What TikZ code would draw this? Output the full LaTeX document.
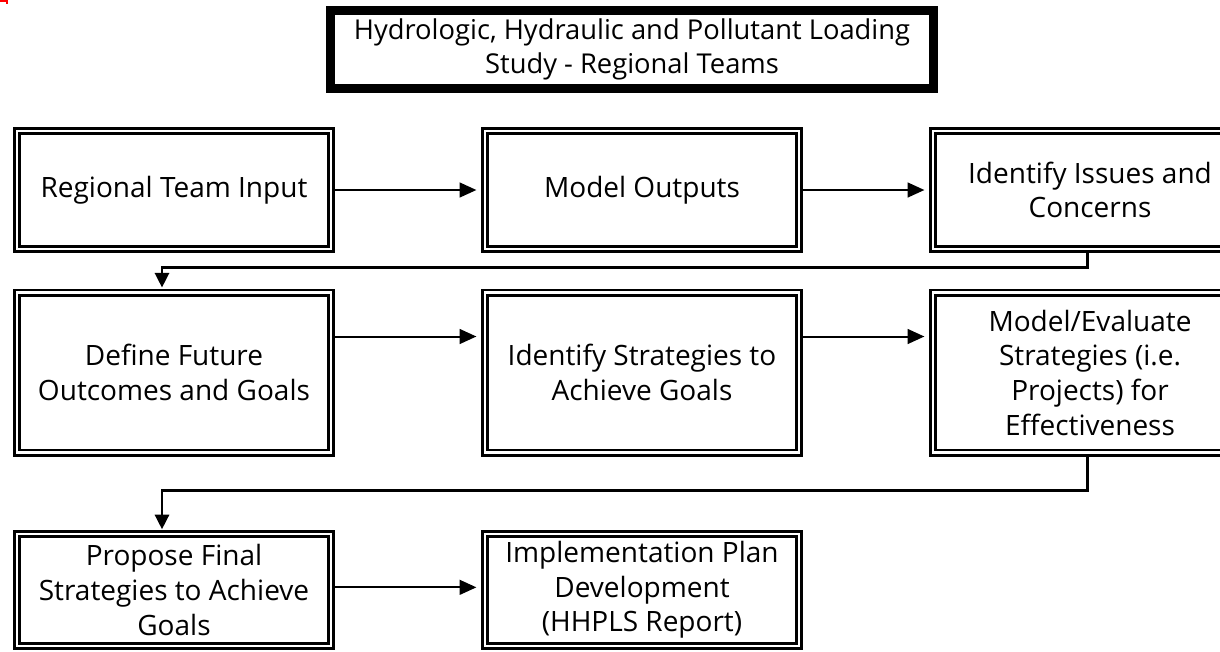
\documentclass[tikz,border=0pt]{standalone}
\usepackage{fontspec}
\setmainfont{Open Sans}
\usetikzlibrary{arrows.meta}

\begin{document}
\begin{tikzpicture}[x=0.75pt, y=-0.75pt,
        stepbox/.style={draw, double, line width=2.2pt, double distance=1.6pt,
            outer sep=3.2pt, align=center, minimum width=235pt,
            font=\fontsize{21}{26}\selectfont},
        titlebox/.style={draw, line width=6.75pt, align=center,
            minimum width=452pt, minimum height=58.5pt, outer sep=0pt,
            font=\fontsize{20.5}{25.5}\selectfont},
        flow/.style={line width=1.5pt, shorten >=3.5pt,
            -{Triangle[length=12.5pt, width=11pt]}},
        back/.style={line width=2.2pt, shorten >=0.5pt,
            -{Triangle[length=11pt, width=10.5pt]}}]

        \useasboundingbox (0,0) rectangle (1220,651);
        \clip (0,0) rectangle (1220,651);

        % corner mark
        \draw[red, line width=1.5pt] (0,1) -- (6.5,1) -- (6.5,4);

        % title
        \node[titlebox] (ttl) at (632,49.5)
            {Hydrologic, Hydraulic and Pollutant Loading\\Study - Regional Teams};

        % first row
        \node[stepbox, minimum height=88pt] (inp) at (174,190) {Regional Team Input};
        \node[stepbox, minimum height=88pt] (out) at (642,190) {Model Outputs};
        \node[stepbox, minimum height=88pt] (iss) at (1090,190) {Identify Issues and\\Concerns};

        % second row
        \node[stepbox, minimum height=120pt] (def) at (174,372.5) {Define Future\\Outcomes and Goals};
        \node[stepbox, minimum height=120pt] (str) at (642,372.5) {Identify Strategies to\\Achieve Goals};
        \node[stepbox, minimum height=120pt] (mod) at (1090,372.5) {Model/Evaluate\\Strategies (i.e.\\Projects) for\\Effectiveness};

        % third row
        \node[stepbox, minimum height=83.6pt] (pro) at (174,590) {Propose Final\\Strategies to Achieve\\Goals};
        \node[stepbox, minimum height=83.6pt] (imp) at (642,590) {Implementation Plan\\Development\\(HHPLS Report)};

        % arrows along the rows
        \draw[flow] (inp) -- (out);
        \draw[flow] (out) -- (iss);
        \draw[flow] ([yshift=27pt]def.east) -- ([yshift=27pt]str.west);
        \draw[flow] ([yshift=27pt]str.east) -- ([yshift=27pt]mod.west);
        \draw[flow] ([yshift=2pt]pro.east) -- ([yshift=2pt]imp.west);

        % links between the rows
        \draw[back] ([xshift=-2pt]iss.south) -- ++(0,15) -| ([xshift=-9pt]def.north);
        \draw[back] ([xshift=-2pt]mod.south) -- ++(0,34) -| ([xshift=-9pt]pro.north);
    \end{tikzpicture}
\end{document}
